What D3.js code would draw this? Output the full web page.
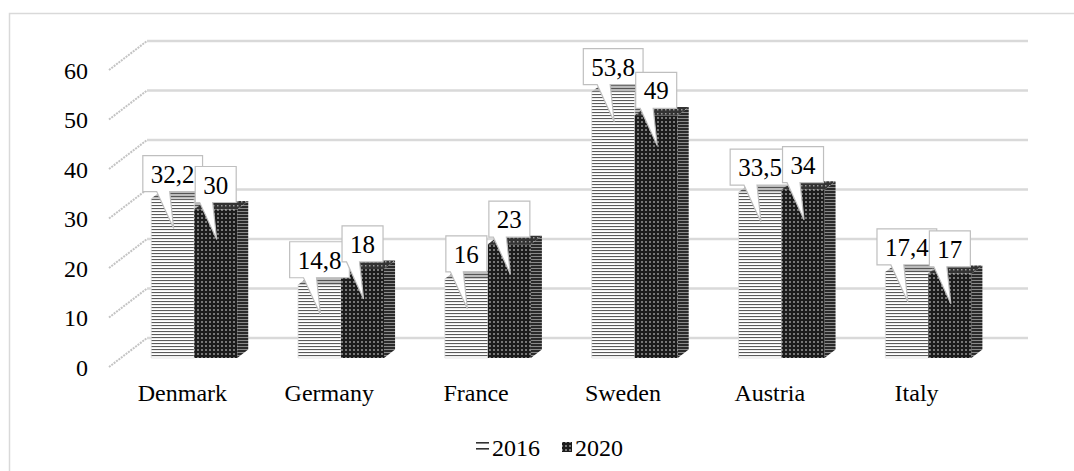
<!DOCTYPE html>
<html><head><meta charset="utf-8">
<script src="https://cdn.jsdelivr.net/npm/d3@7"></script>
<style>body{margin:0;background:#fff}svg{display:block}</style>
</head><body>
<svg id="c" width="1074" height="471"></svg>
<script>
const categories = ["Denmark","Germany","France","Sweden","Austria","Italy"];
const series = ["2016","2020"];
const values2016 = [32.2, 14.8, 16, 53.8, 33.5, 17.4];
const values2020 = [30, 18, 23, 49, 34, 17];
const labels2016 = ["32,2","14,8","16","53,8","33,5","17,4"];
const labels2020 = ["30","18","23","49","34","17"];
const yTicks = [0,10,20,30,40,50,60];
const FONT = "'Liberation Serif', 'Times New Roman', serif";

const svg = d3.select("#c").attr("font-family",FONT);
const defs = svg.append("defs");
function pat(id,w,h,bg,draw){const p=defs.append("pattern").attr("id",id).attr("patternUnits","userSpaceOnUse").attr("width",w).attr("height",h);p.append("rect").attr("width",w).attr("height",h).attr("fill",bg);draw(p);}
pat("p16f",4,3,"#fff",p=>p.append("rect").attr("y",1).attr("width",4).attr("height",1.1).attr("fill","#5a5a5a"));
pat("p16t",4,3,"#bbb",p=>p.append("rect").attr("y",1).attr("width",4).attr("height",1).attr("fill","#555"));
pat("p20f",4,4,"#1c1c1c",p=>p.append("rect").attr("x",1.3).attr("y",1.3).attr("width",1.4).attr("height",1.4).attr("fill","#d8d8d8"));
pat("p20s",4,3,"#2a2a2a",p=>p.append("rect").attr("y",1).attr("width",4).attr("height",1).attr("fill","#8a8a8a"));
pat("p20t",4,4,"#333",p=>p.append("rect").attr("x",1).attr("y",1).attr("width",1.5).attr("height",1.5).attr("fill","#999"));

svg.append("rect").attr("x",9.5).attr("y",13.5).attr("width",1200).attr("height",600).attr("fill","none").attr("stroke","#d9d9d9").attr("stroke-width",1.5);

const x = d3.scaleBand().domain(categories).range([109,990]);
const xs = d3.scaleBand().domain(series).range([0,x.bandwidth()]).paddingOuter(0.707);
const y = d3.scaleLinear().domain([0,60]).range([367,70]);
const DX=38, DY=-29, d0=0.31, d1=0.60;
const P=(xf,v,d)=>[xf+d*DX, y(v)+d*DY];

// walls
const [fx0,fx1]=x.range();
yTicks.forEach(t=>{
  const a=P(fx0,t,1), b=P(fx1,t,1), c=P(fx0,t,0);
  svg.append("line").attr("x1",a[0]).attr("y1",a[1]).attr("x2",b[0]).attr("y2",b[1]).attr("stroke","#d9d9d9").attr("stroke-width",2.5);
  svg.append("line").attr("x1",c[0]).attr("y1",c[1]).attr("x2",a[0]).attr("y2",a[1]).attr("stroke","#c4c4c4").attr("stroke-width",2).attr("stroke-dasharray","2,1");
});

// axis labels
const yAxis = d3.axisLeft(y).tickValues(yTicks).tickSize(0).tickPadding(0);
const ag = svg.append("g").attr("transform","translate(88,0)").call(yAxis).attr("font-family",FONT).attr("font-size",24);
ag.select(".domain").remove();
ag.selectAll("text").attr("font-family",FONT).attr("font-size",24).attr("fill","#000").attr("dy","0.35em");

// category labels
const xAxis = d3.axisBottom(x).tickSize(0).tickPadding(0);
const xg = svg.append("g").attr("transform","translate(0,401)").call(xAxis).attr("font-family",FONT).attr("font-size",24);
xg.select(".domain").remove();
xg.selectAll("text").attr("font-family",FONT).attr("font-size",24).attr("fill","#000").attr("dy",0);

const poly=pts=>"M"+pts.map(p=>p.join(",")).join("L")+"Z";
const data=[{s:"2016",vals:values2016,labs:labels2016,f:"url(#p16f)",t:"url(#p16t)",sd:"url(#p16t)"},
            {s:"2020",vals:values2020,labs:labels2020,f:"url(#p20f)",t:"url(#p20t)",sd:"url(#p20s)"}];
const bw=xs.bandwidth();
categories.forEach((c,i)=>{
  data.forEach(dd=>{
    const v=dd.vals[i], xl=x(c)+xs(dd.s), xr=xl+bw;
    const g=svg.append("g");
    g.append("path").attr("d",poly([P(xr,0,d0),P(xr,0,d1),P(xr,v,d1),P(xr,v,d0)])).attr("fill",dd.sd);
    g.append("path").attr("d",poly([P(xl,0,d0),P(xr,0,d0),P(xr,v,d0),P(xl,v,d0)])).attr("fill",dd.f).attr("stroke",dd.s==="2016"?"#ddd":"none").attr("stroke-width",0.8);
    g.append("path").attr("d",poly([P(xl,v,d0),P(xr,v,d0),P(xr,v,d1),P(xl,v,d1)])).attr("fill",dd.t);
  });
});

// callouts
categories.forEach((c,i)=>{
  data.forEach(dd=>{
    const v=dd.vals[i], xl=x(c)+xs(dd.s), xr=xl+bw;
    const front=P(xl,v,d0), cx=(P(xl,v,d0)[0]+P(xr,v,d0)[0])/2;
    const g=svg.append("g");
    const tx=g.append("text").attr("font-family",FONT).attr("font-size",25).attr("text-anchor","middle").attr("x",cx).attr("fill","#000").text(dd.labs[i]);
    const tw=tx.node().getComputedTextLength();
    const bot=front[1]-7, top=bot-36, x0=cx-tw/2-8, x1=cx+tw/2+8;
    tx.attr("y",bot-9);
    g.insert("path","text").attr("d",`M${x0},${top}H${x1}V${bot}H${cx-3}L${cx+1},${bot+37}L${cx-16},${bot}H${x0}Z`)
      .attr("fill","#fff").attr("stroke","#bfbfbf").attr("stroke-width",1.2);
  });
});

// legend
const lg=svg.append("g");
lg.append("rect").attr("x",476).attr("y",442).attr("width",13).attr("height",1.6).attr("fill","#333");
lg.append("rect").attr("x",476).attr("y",448).attr("width",13).attr("height",1.6).attr("fill","#333");
lg.append("text").attr("x",492).attr("y",456).attr("font-family",FONT).attr("font-size",24).attr("fill","#000").text(series[0]);
lg.append("rect").attr("x",562).attr("y",442).attr("width",10).attr("height",10).attr("fill","url(#p20f)");
lg.append("text").attr("x",575).attr("y",456).attr("font-family",FONT).attr("font-size",24).attr("fill","#000").text(series[1]);
</script>
</body></html>
